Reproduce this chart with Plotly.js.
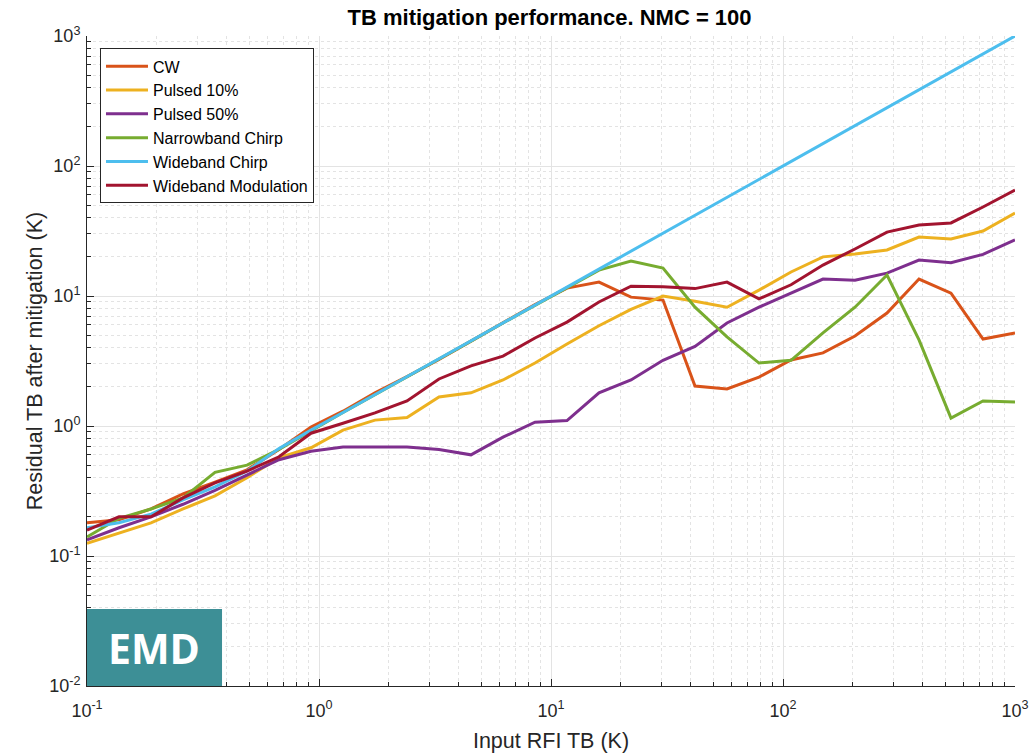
<!DOCTYPE html>
<html>
<head>
<meta charset="utf-8">
<script src="https://cdn.plot.ly/plotly-3.0.1.min.js"></script>
<style>
html,body{margin:0;padding:0;background:#fff;}
#chart{width:1033px;height:756px;}
</style>
</head>
<body>
<div id="chart"></div>
<script>
// Input RFI TB (K)
const inputTB = [0.1, 0.1374, 0.1887, 0.2593, 0.3562, 0.4894, 0.6723, 0.9237, 1.269, 1.743,
  2.395, 3.290, 4.520, 6.210, 8.532, 11.72, 16.10, 22.12, 30.39, 41.75,
  57.36, 78.80, 108.3, 148.7, 204.3, 280.7, 385.7, 529.8, 727.9, 1000];

const cw = [0.18, 0.19, 0.23, 0.30, 0.37, 0.46, 0.66, 0.98, 1.3, 1.8,
  2.4, 3.25, 4.5, 6.2, 8.6, 11.5, 12.8, 9.8, 9.3, 2.03,
  1.93, 2.38, 3.22, 3.65, 4.92, 7.4, 13.5, 10.5, 4.67, 5.19];

const pulsed10 = [0.125, 0.15, 0.18, 0.23, 0.29, 0.40, 0.57, 0.68, 0.93, 1.11,
  1.16, 1.67, 1.8, 2.26, 3.05, 4.27, 5.9, 7.9, 10.0, 9.1,
  8.2, 11.1, 15.3, 20.0, 21.0, 22.6, 28.4, 27.5, 31.6, 43.5];

const pulsed50 = [0.133, 0.165, 0.20, 0.25, 0.32, 0.42, 0.55, 0.64, 0.69, 0.69,
  0.69, 0.66, 0.60, 0.82, 1.07, 1.1, 1.8, 2.26, 3.2, 4.1,
  6.2, 8.2, 10.5, 13.5, 13.2, 15.0, 18.9, 18.0, 20.9, 27.0];

const narrowChirp = [0.14, 0.195, 0.23, 0.28, 0.44, 0.50, 0.66, 0.92, 1.27, 1.74,
  2.4, 3.3, 4.5, 6.2, 8.5, 11.7, 15.8, 18.6, 16.4, 8.2,
  4.84, 3.05, 3.2, 5.2, 8.2, 14.5, 4.6, 1.15, 1.56, 1.53];

const wideChirp = [0.165, 0.18, 0.21, 0.27, 0.34, 0.45, 0.67, 0.93, 1.27, 1.74,
  2.4, 3.3, 4.52, 6.21, 8.53, 11.7, 16.1, 22.1, 30.4, 41.8,
  57.4, 78.8, 108.3, 148.7, 204.3, 280.7, 385.7, 529.8, 727.9, 1000];

const wideMod = [0.158, 0.20, 0.20, 0.28, 0.365, 0.45, 0.58, 0.88, 1.05, 1.26,
  1.56, 2.3, 2.9, 3.45, 4.75, 6.3, 9.0, 11.9, 11.8, 11.4,
  12.8, 9.5, 12.2, 17.3, 23.0, 31.0, 35.2, 36.5, 48.4, 65.3];

const seriesNames = ["CW", "Pulsed 10%", "Pulsed 50%", "Narrowband Chirp", "Wideband Chirp", "Wideband Modulation"];
const seriesData = [cw, pulsed10, pulsed50, narrowChirp, wideChirp, wideMod];
const seriesColors = ["#D95319", "#EDB120", "#7E2F8E", "#77AC30", "#4DBEEE", "#A2142F"];

const xTickVals = [0.1, 1, 10, 100, 1000];
const xTickText = ["10<sup>-1</sup>", "10<sup>0</sup>", "10<sup>1</sup>", "10<sup>2</sup>", "10<sup>3</sup>"];
const yTickVals = [0.01, 0.1, 1, 10, 100, 1000];
const yTickText = ["10<sup>-2</sup>", "10<sup>-1</sup>", "10<sup>0</sup>", "10<sup>1</sup>", "10<sup>2</sup>", "10<sup>3</sup>"];

const traces = seriesNames.map((n, i) => ({
  x: inputTB, y: seriesData[i], name: n, type: "scatter", mode: "lines",
  line: {color: seriesColors[i], width: 3}
}));

const fontFam = "Liberation Sans, Arial, Helvetica, sans-serif";
const axisCommon = {
  type: "log",
  tickmode: "array",
  showgrid: true, gridcolor: "#e3e3e3", gridwidth: 1,
  ticks: "inside", ticklen: 7, tickcolor: "#262626",
  showline: true, linecolor: "#262626", linewidth: 1,
  zeroline: false,
  tickfont: {family: fontFam, size: 18, color: "#262626"},
  minor: {dtick: "D1", showgrid: true, gridcolor: "#e3e3e3", griddash: "dot", gridwidth: 1,
          ticks: "inside", ticklen: 4, tickcolor: "#262626"}
};

const layout = {
  width: 1033, height: 756,
  margin: {l: 87, r: 18, t: 36, b: 70},
  paper_bgcolor: "#ffffff", plot_bgcolor: "#ffffff",
  title: {text: "<b>TB mitigation performance. NMC = 100</b>", x: 0.532, xanchor: "center", y: 0.977, yanchor: "middle",
          font: {family: fontFam, size: 22, color: "#000"}},
  xaxis: Object.assign({}, axisCommon, {
    range: [-1, 3], tickvals: xTickVals, ticktext: xTickText, ticklabelstandoff: 8,
    title: {text: "Input RFI TB (K)", font: {family: fontFam, size: 21.5, color: "#262626"}, standoff: 13}
  }),
  yaxis: Object.assign({}, axisCommon, {
    range: [-2, 3], tickvals: yTickVals, ticktext: yTickText, ticklabelstandoff: 2,
    title: {text: "Residual TB after mitigation (K)", font: {family: fontFam, size: 21.5, color: "#262626"}, standoff: 0}
  }),
  showlegend: true,
  legend: {x: 0.014, y: 0.981, xanchor: "left", yanchor: "top",
           bgcolor: "#ffffff", bordercolor: "#262626", borderwidth: 1,
           font: {family: fontFam, size: 16, color: "#000"},
           tracegroupgap: 0, itemwidth: 42},
  shapes: [{type: "rect", xref: "paper", yref: "paper", x0: 0, x1: 0.1455, y0: 0, y1: 0.1185,
            fillcolor: "#3d8f96", line: {width: 0}, layer: "above"}],
  annotations: [{xref: "paper", yref: "paper", x: 0.0727, y: 0.059, xanchor: "center", yanchor: "middle",
                 text: "<b>EMD</b>", showarrow: false,
                 font: {family: "Open Sans, Noto Sans, sans-serif", size: 41, color: "#ffffff"}}]
};

Plotly.newPlot("chart", traces, layout, {displayModeBar: false, staticPlot: true});
</script>
</body>
</html>
